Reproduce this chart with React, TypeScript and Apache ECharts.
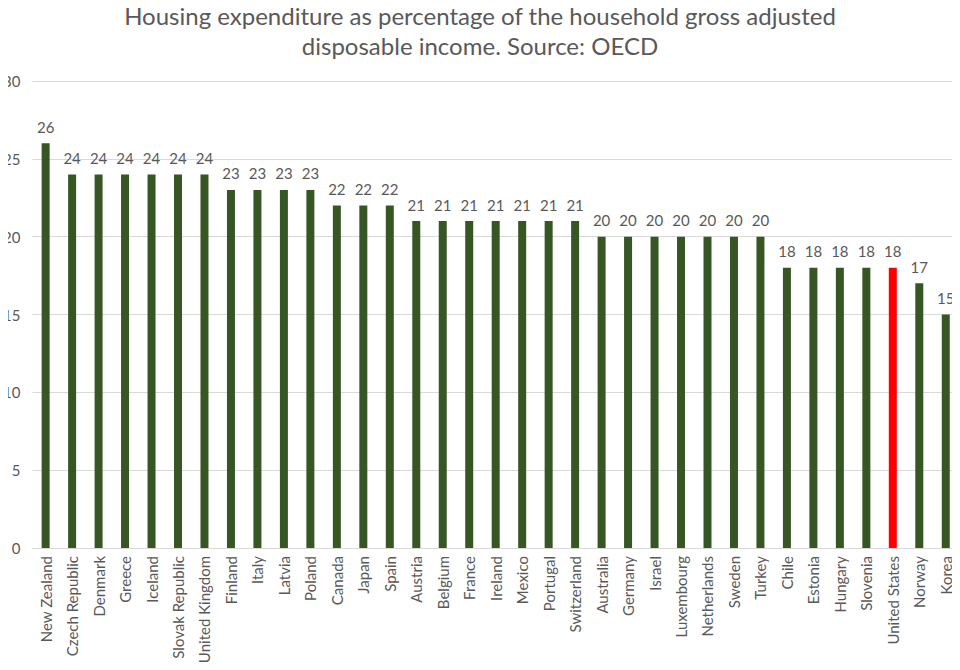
import React, { useEffect, useRef } from "react";
import * as echarts from "echarts";

const countries = [
  "New Zealand", "Czech Republic", "Denmark", "Greece", "Iceland", "Slovak Republic",
  "United Kingdom", "Finland", "Italy", "Latvia", "Poland", "Canada", "Japan", "Spain",
  "Austria", "Belgium", "France", "Ireland", "Mexico", "Portugal", "Switzerland",
  "Australia", "Germany", "Israel", "Luxembourg", "Netherlands", "Sweden", "Turkey",
  "Chile", "Estonia", "Hungary", "Slovenia", "United States", "Norway", "Korea",
];
const values = [
  26, 24, 24, 24, 24, 24, 24, 23, 23, 23, 23, 22, 22, 22, 21, 21, 21, 21, 21, 21, 21,
  20, 20, 20, 20, 20, 20, 20, 18, 18, 18, 18, 18, 17, 15,
];
const highlighted = "United States";
const titleText =
  "Housing expenditure as percentage of the household gross adjusted\ndisposable income. Source: OECD";

const GREEN = "#375623";
const RED = "#ff0000";
const TEXT = "#595959";
const FONT = "Lato, 'Open Sans', sans-serif";

export default function App() {
  const ref = useRef<HTMLDivElement>(null);
  useEffect(() => {
    if (!ref.current) return;
    const chart = echarts.init(ref.current, null, { renderer: "svg" });
    chart.setOption({
      animation: false,
      backgroundColor: "#ffffff",
      title: {
        text: titleText,
        left: "center",
        top: 0,
        padding: 0,
        textStyle: {
          fontFamily: FONT,
          fontSize: 24,
          fontWeight: "normal",
          color: TEXT,
          lineHeight: 30,
        },
      },
      grid: { left: 32, right: 1, top: 81, bottom: 122, containLabel: false },
      xAxis: {
        type: "category",
        data: countries,
        axisLine: { show: true, lineStyle: { color: "#d9d9d9" } },
        axisTick: { show: false },
        axisLabel: {
          rotate: 90,
          interval: 0,
          color: TEXT,
          fontFamily: FONT,
          fontSize: 15,
          margin: 8,
        },
      },
      yAxis: {
        type: "value",
        min: 0,
        max: 30,
        interval: 5,
        axisLine: { show: false },
        axisTick: { show: false },
        splitLine: { lineStyle: { color: "#d9d9d9", width: 1 } },
        axisLabel: { color: TEXT, fontFamily: FONT, fontSize: 15, margin: 12 },
      },
      series: [
        {
          type: "bar",
          barWidth: 8,
          data: values.map((v, i) => ({
            value: v,
            itemStyle: { color: countries[i] === highlighted ? RED : GREEN },
          })),
          label: {
            show: true,
            position: "top",
            distance: 9,
            color: TEXT,
            fontFamily: FONT,
            fontSize: 15,
          },
        },
      ],
    });
    return () => chart.dispose();
  }, []);
  return <div ref={ref} style={{ width: 960, height: 670, margin: -8 }} />;
}
